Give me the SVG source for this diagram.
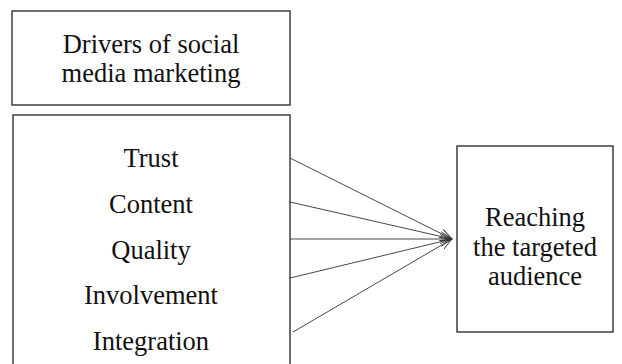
<svg xmlns="http://www.w3.org/2000/svg" width="622" height="364" viewBox="0 0 622 364">
<style>
.box{fill:#fff;stroke:#222;stroke-width:1.3}
.t{font-family:"Liberation Serif","Times New Roman",serif;font-size:26.5px;fill:#111;text-anchor:middle}
.c{stroke:#333;stroke-width:0.9;fill:none;marker-end:url(#ah)}
</style>
<defs>
<marker id="ah" markerWidth="14" markerHeight="12" refX="12" refY="6" orient="auto" markerUnits="userSpaceOnUse">
<path d="M0,1.5 L12,6 L0,10.5" fill="none" stroke="#333" stroke-width="0.9"/>
</marker>
</defs>
<rect width="622" height="364" fill="#fff"/>
<g id="drivers-title">
<rect class="box" x="12" y="11" width="278" height="94"/>
<text class="t" x="151" y="53">Drivers of social</text>
<text class="t" x="151" y="82">media marketing</text>
</g>
<g id="drivers">
<rect class="box" x="13" y="115" width="277" height="260"/>
<text class="t" x="151" y="167">Trust</text>
<text class="t" x="151" y="213">Content</text>
<text class="t" x="151" y="259">Quality</text>
<text class="t" x="151" y="304">Involvement</text>
<text class="t" x="151" y="350">Integration</text>
</g>
<g id="target">
<rect class="box" x="457" y="146" width="156" height="186"/>
<text class="t" x="535" y="226">Reaching</text>
<text class="t" x="535" y="256">the targeted</text>
<text class="t" x="535" y="285">audience</text>
</g>
<g id="connectors">
<line class="c" x1="290" y1="158" x2="452" y2="239"/>
<line class="c" x1="290" y1="202" x2="452" y2="239"/>
<line class="c" x1="290" y1="239" x2="452" y2="239"/>
<line class="c" x1="290" y1="278" x2="452" y2="239"/>
<line class="c" x1="293" y1="332" x2="452" y2="239"/>
</g>
</svg>
